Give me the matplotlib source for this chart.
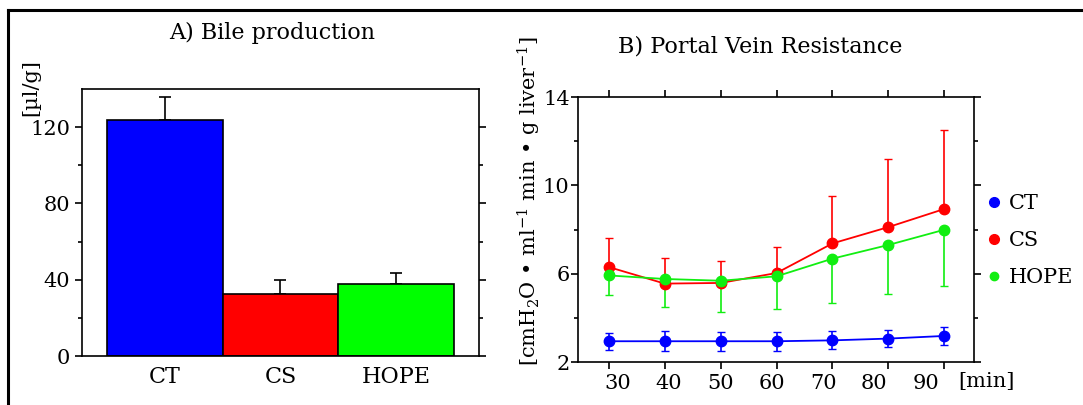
import numpy as np
import matplotlib.pyplot as plt
from matplotlib.lines import Line2D
from matplotlib.transforms import ScaledTranslation

plt.rcParams['font.family'] = ['DejaVu Serif']
plt.rcParams['mathtext.fontset'] = 'dejavuserif'

# A) bile production
groups = ['CT', 'CS', 'HOPE']
bile = [124, 32.5, 37.5]
bile_err = [12, 7.5, 6]
bar_colors = ['#0000ff', '#ff0000', '#00ff00']

# B) portal vein resistance
minutes = [30, 40, 50, 60, 70, 80, 90]
ct = [2.94, 2.94, 2.94, 2.94, 2.98, 3.06, 3.18]
ct_err = [0.38, 0.46, 0.44, 0.42, 0.41, 0.39, 0.39]
cs = [6.30, 5.55, 5.58, 6.03, 7.37, 8.11, 8.93]
cs_err = [1.32, 1.14, 0.99, 1.16, 2.15, 3.08, 3.56]
hope = [5.92, 5.76, 5.68, 5.88, 6.68, 7.30, 7.99]
hope_err = [0.89, 1.27, 1.43, 1.48, 1.99, 2.24, 2.56]

W, H = 1083, 405
fig = plt.figure(figsize=(W / 100, H / 100), dpi=100)

def box(l, r, t, b):
    return [l / W, 1 - b / H, (r - l) / W, (b - t) / H]

# ---- panel A ----
ax1 = fig.add_axes(box(82, 479, 89, 356))
x = np.arange(len(groups))
ax1.bar(x, bile, width=1.0, color=bar_colors, edgecolor='black', linewidth=1.2, zorder=2)
ax1.errorbar(x, bile, yerr=[np.zeros(3), bile_err], fmt='none', ecolor='black',
             elinewidth=1.2, capsize=4, capthick=1.2, zorder=1)
ax1.set_xlim(-0.716, 2.716)
ax1.set_ylim(0, 140)
ax1.set_yticks([0, 40, 80, 120])
ax1.set_yticks([20, 60, 100], minor=True)
ax1.set_xticks(x)
ax1.set_xticklabels(groups, fontsize=16)
ax1.set_xticks([1], minor=True)
ax1.tick_params(axis='x', which='major', length=0, pad=7)
ax1.tick_params(axis='x', which='minor', length=4, width=1.2, top=True, direction='out')
ax1.tick_params(axis='y', which='major', length=5, width=1.2, labelsize=15, right=True, direction='out')
ax1.tick_params(axis='y', which='minor', length=3, width=1.2, right=True, direction='out')
for s in ax1.spines.values():
    s.set_linewidth(1.2)
fig.text(272 / W, 1 - 33 / H, 'A) Bile production', fontsize=16, ha='center', va='center')
fig.text(31 / W, 1 - 88 / H, '[µl/g]', rotation=90, fontsize=15, ha='center', va='center')

# ---- panel B ----
ax2 = fig.add_axes(box(578, 974, 97, 362))
ax2.errorbar(minutes, ct, yerr=ct_err, color='#0000ff', marker='o', markersize=7.5,
             linewidth=1.3, elinewidth=1.2, capsize=3, label='CT')
ax2.errorbar(minutes, cs, yerr=[np.zeros(7), cs_err], color='#ff0000', marker='o', markersize=7.5,
             linewidth=1.3, elinewidth=1.2, capsize=3, label='CS')
ax2.errorbar(minutes, hope, yerr=[hope_err, np.zeros(7)], color='#11ee11', marker='o', markersize=7.5,
             linewidth=1.3, elinewidth=1.2, capsize=3, label='HOPE')
ax2.set_xlim(24.5, 95.3)
ax2.set_ylim(2, 14)
ax2.set_xticks(minutes)
ax2.set_yticks([2, 6, 10, 14])
ax2.set_yticks([4, 8, 12], minor=True)
ax2.tick_params(axis='both', which='major', length=5, width=1.2, labelsize=15,
                top=True, right=True, direction='out')
ax2.tick_params(axis='y', which='major', pad=1)
ax2.tick_params(axis='y', which='minor', length=3, width=1.2, right=True, direction='out')
for s in ax2.spines.values():
    s.set_linewidth(1.2)

# the x labels in the original sit slightly off their ticks (tighter spacing)
shifts = [9, 4.4, -0.2, -5, -9.2, -14, -18.8]
for lab, dx in zip(ax2.get_xticklabels(), shifts):
    lab.set_transform(lab.get_transform() + ScaledTranslation(dx / 100, 0, fig.dpi_scale_trans))

fig.text(760 / W, 1 - 46 / H, 'B) Portal Vein Resistance', fontsize=16, ha='center', va='center')
fig.text(958 / W, 1 - 381 / H, '[min]', fontsize=15, ha='left', va='center')
fig.text(529 / W, 1 - 201 / H, r'[cmH$_2$O • ml$^{-1}$ min • g liver$^{-1}$]',
         rotation=90, fontsize=15, ha='center', va='center')

handles = [Line2D([], [], linestyle='none', marker='o', markersize=m, color=c)
           for c, m in zip(['#0000ff', '#ff0000', '#11ee11'], [7, 7, 6])]
ax2.legend(handles, ['CT', 'CS', 'HOPE'], loc='center left', bbox_to_anchor=(1.03, 0.457),
           frameon=False, fontsize=15, handlelength=0.8, handletextpad=0.3,
           labelspacing=0.86, borderpad=0, borderaxespad=0)

# figure frame (top and left edges visible)
fig.add_artist(Line2D([8 / W, 1], [1 - 10 / H, 1 - 10 / H], color='black', linewidth=2.2))
fig.add_artist(Line2D([8 / W, 8 / W], [0, 1 - 10 / H], color='black', linewidth=2.2))

fig.savefig('out.png', dpi=100)
